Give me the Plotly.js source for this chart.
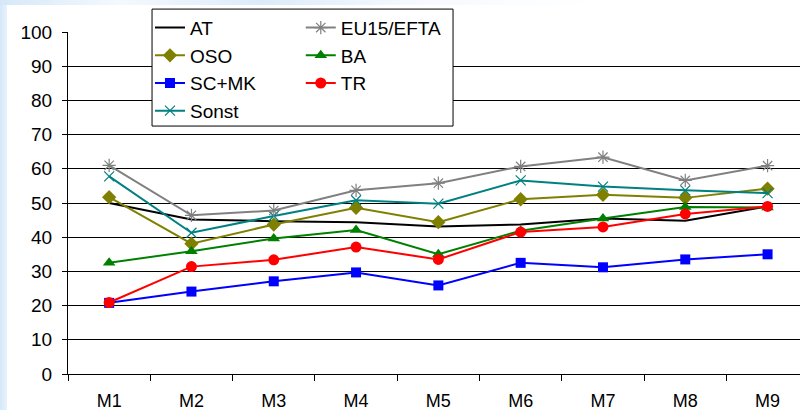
<!DOCTYPE html>
<html>
<head>
<meta charset="utf-8">
<script src="https://cdn.plot.ly/plotly-3.0.1.min.js"></script>
<style>
  html, body { margin: 0; padding: 0; width: 800px; height: 410px; overflow: hidden;
    background: linear-gradient(90deg, #d6e8f8 0px, #e8f2fc 7px, #ffffff 400px); }
  #bgwhite { position: absolute; left: 7px; top: 5px; width: 793px; height: 405px; background: #ffffff; }
  #topfade { position: absolute; left: 0; top: 0; width: 800px; height: 5px;
    background: linear-gradient(90deg, #d6e8f8 0px, #f4f9fe 120px, #dcebf9 260px, #f6fafe 420px, #ffffff 600px); }
  #chart { position: absolute; left: 0; top: 0; width: 800px; height: 410px; }
</style>
</head>
<body>
<div id="topfade"></div>
<div id="bgwhite"></div>
<div id="chart"></div>
<script>
const categories = ["M1", "M2", "M3", "M4", "M5", "M6", "M7", "M8", "M9"];
const AT     = [50.0, 45.2, 44.7, 44.4, 43.1, 43.7, 45.5, 44.8, 49.0];
const EU15   = [61.0, 46.4, 47.8, 53.7, 55.8, 60.7, 63.4, 56.6, 60.9];
const OSO    = [51.7, 38.1, 43.7, 48.6, 44.4, 51.1, 52.4, 51.5, 54.2];
const BA     = [32.5, 35.9, 39.6, 42.1, 35.0, 41.9, 45.5, 48.8, 48.7];
const SCMK   = [20.8, 24.1, 27.1, 29.7, 25.9, 32.5, 31.2, 33.5, 35.0];
const TR     = [20.9, 31.4, 33.4, 37.1, 33.5, 41.5, 43.0, 46.8, 49.0];
const Sonst  = [57.8, 41.3, 46.2, 50.8, 49.8, 56.6, 54.8, 53.7, 52.9];
const yTicks = [0, 10, 20, 30, 40, 50, 60, 70, 80, 90, 100];

function tr(name, y, color, symbol, size, legend, mline) {
  return {
    type: "scatter", mode: symbol ? "lines+markers" : "lines", name: name, x: categories, y: y,
    legend: legend, legendgroup: name,
    line: { color: color, width: 2 },
    marker: { symbol: symbol || "circle", size: size, color: color,
      line: { color: color, width: mline } }
  };
}

const data = [
  tr("AT", AT, "#000000", null, 1, "legend", 0),
  tr("OSO", OSO, "#808000", "diamond", 11, "legend", 0),
  tr("SC+MK", SCMK, "#0000ff", "square", 10, "legend", 0),
  tr("Sonst", Sonst, "#008080", "x-thin-open", 10, "legend", 1.2),
  tr("EU15/EFTA", EU15, "#808080", "asterisk-open", 11, "legend2", 1.2),
  tr("BA", BA, "#008000", "triangle-up", 11, "legend2", 0),
  tr("TR", TR, "#ff0000", "circle", 11, "legend2", 0)
];

const legendCommon = {
  font: { family: "Liberation Sans, Arial, sans-serif", size: 19, color: "#000" },
  bgcolor: "rgba(0,0,0,0)", borderwidth: 0,
  xanchor: "left", yanchor: "top", y: 1.068,
  traceorder: "grouped", tracegroupgap: 0, itemwidth: 30
};

const layout = {
  width: 800, height: 410,
  margin: { l: 68, r: 0, t: 32, b: 36 },
  paper_bgcolor: "rgba(0,0,0,0)", plot_bgcolor: "rgba(0,0,0,0)",
  font: { family: "Liberation Sans, Arial, sans-serif", size: 18, color: "#000" },
  showlegend: true,
  legend: Object.assign({}, legendCommon, { x: 0.112 }),
  legend2: Object.assign({}, legendCommon, { x: 0.318 }),
  xaxis: {
    type: "category", range: [-0.5, 8.394], tickson: "boundaries",
    ticks: "outside", ticklen: 6, tickcolor: "#000", tickwidth: 1,
    showline: true, linecolor: "#000", linewidth: 1,
    showgrid: false, zeroline: false, ticklabelstandoff: 10,
    tickfont: { size: 18 }
  },
  yaxis: {
    range: [0, 100], tickvals: yTicks, ticktext: yTicks.map(String),
    ticks: "outside", ticklen: 5, tickcolor: "#000", tickwidth: 1,
    showline: true, linecolor: "#000", linewidth: 1,
    showgrid: true, gridcolor: "#000", gridwidth: 1, zeroline: false,
    ticklabelstandoff: 6, tickfont: { size: 19 }
  },
  shapes: [{
    type: "rect", xref: "paper", yref: "paper", layer: "above",
    x0: 0.1148, x1: 0.526, y0: 0.725, y1: 1.067,
    fillcolor: "#ffffff", line: { color: "#000", width: 1 }
  }]
};

Plotly.newPlot("chart", data, layout, { displayModeBar: false, staticPlot: true });
</script>
</body>
</html>
